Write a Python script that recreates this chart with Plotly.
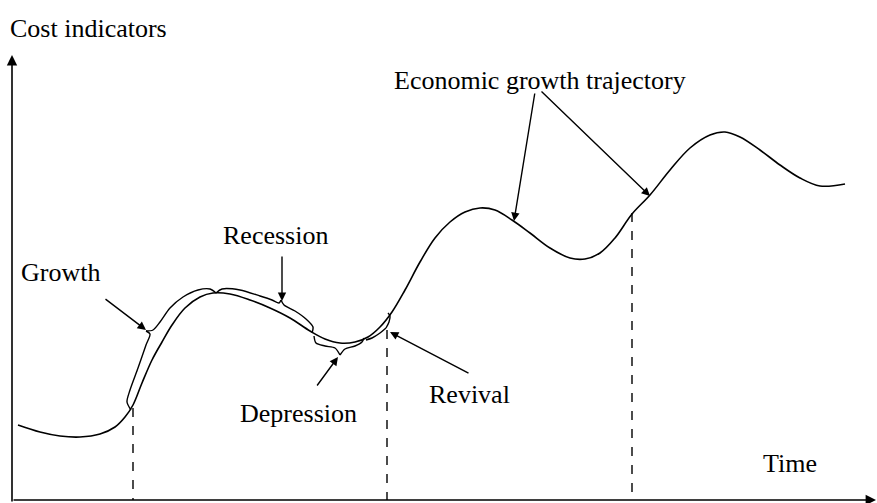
import plotly.graph_objects as go

# Main trajectory (schematic units: x = time, y = screen-like, top = high cost)
curve_x = [18, 40, 60, 80, 100, 115, 125, 133, 142, 152, 162, 172, 185, 200, 213, 230, 250, 270, 290, 310,
           325, 340, 355, 368, 380, 392, 405, 420, 435, 450, 465, 480, 495, 512, 530, 550, 570, 585, 600,
           615, 632, 650, 670, 690, 710, 725, 740, 760, 780, 800, 820, 845]
curve_y = [425, 432, 436, 437, 434, 427, 417, 405, 383, 360, 342, 325, 308, 297, 293, 294, 300, 308, 318, 331,
           339, 343, 342, 337, 327, 312, 290, 262, 238, 222, 212, 208, 210, 220, 233, 248, 258, 259, 253,
           238, 214, 195, 170, 148, 135, 132, 137, 150, 165, 178, 186, 184]

# Phase braces (segments)
brace_segments = [
    ([131, 127, 130, 138, 146, 150, 146], [410, 402, 390, 368, 345, 334, 331]),
    ([146, 153, 160, 170, 183, 198, 210, 216], [331, 330, 322, 308, 297, 290, 289, 293]),
    ([216, 222, 240, 260, 272, 279, 281], [293, 289, 290, 296, 300, 303, 300]),
    ([281, 284, 295, 306, 313, 312], [300, 305, 311, 319, 327, 333]),
    ([314, 316, 325, 335, 340], [336, 343, 346, 348, 355]),
    ([340, 345, 355, 362, 364], [355, 349, 346, 342, 338]),
    ([366, 372, 380, 386], [340, 338, 333, 328]),
    ([386, 389, 390, 388], [328, 322, 316, 313]),
]

# Labels
label_text = ["Growth", "Recession", "Depression", "Revival", "Economic growth trajectory", "Time"]
label_x = [60, 275, 298, 469, 540, 790]
label_y = [272, 235, 413, 394, 80, 463]

# Arrows: (tail_x, tail_y, head_x, head_y)
arrow_tail_x = [104, 282, 316, 470, 535, 540]
arrow_tail_y = [298, 255, 387, 374, 92, 90]
arrow_head_x = [146, 282, 338, 390, 514, 650]
arrow_head_y = [330, 301, 357, 332, 221, 196]

# Dashed markers
dashed_x = [133, 387, 632]
dashed_top = [408, 330, 213]
axis_base = 500

fig = go.Figure()
fig.add_trace(go.Scatter(x=curve_x, y=curve_y, mode="lines",
                         line=dict(color="black", width=1.6, shape="spline", smoothing=1.0),
                         hoverinfo="skip", showlegend=False))
for bx, by in brace_segments:
    fig.add_trace(go.Scatter(x=bx, y=by, mode="lines",
                             line=dict(color="black", width=1.4, shape="spline", smoothing=0.8),
                             hoverinfo="skip", showlegend=False))

font = dict(family="Liberation Serif, Times New Roman, serif", size=26, color="black")

for t, x, y in zip(label_text, label_x, label_y):
    fig.add_annotation(x=x, y=y, text=t, showarrow=False, font=font, xref="x", yref="y")

fig.add_annotation(x=8, y=28, text="Cost indicators", showarrow=False, font=font,
                   xref="x", yref="y", xanchor="left")

for tx, ty, hx, hy in zip(arrow_tail_x, arrow_tail_y, arrow_head_x, arrow_head_y):
    fig.add_annotation(x=hx, y=hy, ax=tx, ay=ty, xref="x", yref="y", axref="x", ayref="y",
                       text="", showarrow=True, arrowhead=2, arrowsize=1.2, arrowwidth=1.4,
                       arrowcolor="black")

# Axes with arrows
fig.add_annotation(x=12, y=55, ax=12, ay=503, xref="x", yref="y", axref="x", ayref="y",
                   text="", showarrow=True, arrowhead=2, arrowsize=1.3, arrowwidth=1.6, arrowcolor="black")
fig.add_annotation(x=876, y=axis_base, ax=12, ay=axis_base, xref="x", yref="y", axref="x", ayref="y",
                   text="", showarrow=True, arrowhead=2, arrowsize=1.3, arrowwidth=1.6, arrowcolor="black")

for dx, dt in zip(dashed_x, dashed_top):
    fig.add_shape(type="line", x0=dx, x1=dx, y0=dt, y1=axis_base, xref="x", yref="y",
                  line=dict(color="black", width=1.4, dash="dash"))

fig.update_layout(
    width=877, height=503,
    margin=dict(l=0, r=0, t=0, b=0),
    paper_bgcolor="white", plot_bgcolor="white",
    xaxis=dict(range=[0, 877], visible=False, fixedrange=True),
    yaxis=dict(range=[503, 0], visible=False, fixedrange=True),
    showlegend=False,
)

fig.write_html("out.html", config={"displayModeBar": False},
               post_script="document.body.style.margin='0';document.body.style.overflow='hidden';")
